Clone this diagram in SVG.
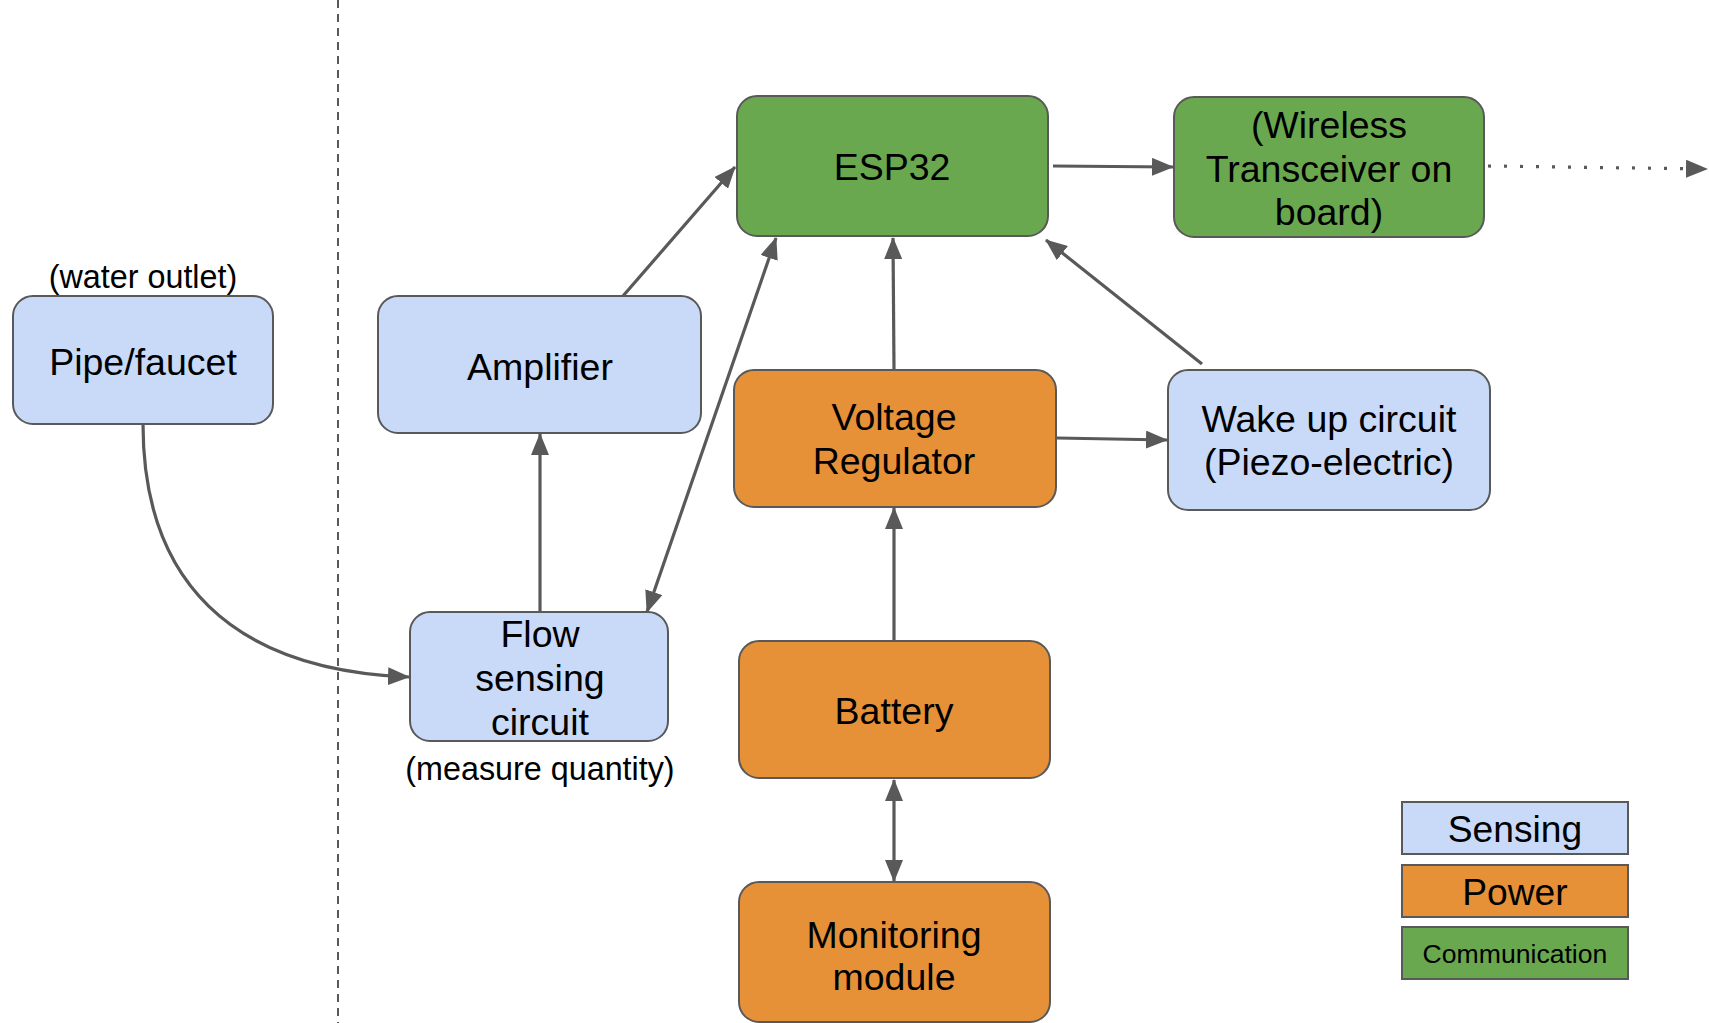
<svg xmlns="http://www.w3.org/2000/svg" width="1709" height="1023" viewBox="0 0 1709 1023">
<defs>
<style>
.node{stroke:#595959;stroke-width:2}
.sens{fill:#c9daf8}
.pow{fill:#e69138}
.com{fill:#6aa84f}
text{font-family:"Liberation Sans",Arial,sans-serif;fill:#000;text-anchor:middle}
.t{font-size:37.5px}
.s{font-size:32.3px}
.l{font-size:37.2px}
.c{font-size:26.6px}
.conn{fill:none;stroke:#595959;stroke-width:3.2}
</style>
<marker id="arr" viewBox="0 0 22 18" markerWidth="22" markerHeight="18" refX="21" refY="9" orient="auto-start-reverse" markerUnits="userSpaceOnUse">
<path d="M0,0 L22,9 L0,18 z" fill="#595959"/>
</marker>
</defs>
<rect width="1709" height="1023" fill="#fff"/>
<line x1="338" y1="0" x2="338" y2="1023" stroke="#595959" stroke-width="2" stroke-dasharray="8,6"/>

<g id="connectors">
<path class="conn" d="M143,424 C143,580 230,670 409,677" marker-end="url(#arr)"/>
<path class="conn" d="M540,612 L540,434" marker-end="url(#arr)"/>
<path class="conn" d="M623,296 L735,167" marker-end="url(#arr)"/>
<path class="conn" d="M647,612 L776,238" marker-start="url(#arr)" marker-end="url(#arr)"/>
<path class="conn" d="M894,369 L893,238" marker-end="url(#arr)"/>
<path class="conn" d="M1053,166 L1173,167" marker-end="url(#arr)"/>
<path class="conn" d="M1488,166 L1707,169" stroke-dasharray="3,13" marker-end="url(#arr)"/>
<path class="conn" d="M1202,364 L1046,240" marker-end="url(#arr)"/>
<path class="conn" d="M1057,438 L1167,440" marker-end="url(#arr)"/>
<path class="conn" d="M894,640 L894,508" marker-end="url(#arr)"/>
<path class="conn" d="M894,780 L894,881" marker-start="url(#arr)" marker-end="url(#arr)"/>
</g>

<g id="pipe">
<text class="s" x="143" y="288">(water outlet)</text>
<rect class="node sens" x="13" y="296" width="260" height="128" rx="20"/>
<text class="t" x="143" y="375">Pipe/faucet</text>
</g>
<g id="amplifier">
<rect class="node sens" x="378" y="296" width="323" height="137" rx="20"/>
<text class="t" x="540" y="380">Amplifier</text>
</g>
<g id="flow">
<rect class="node sens" x="410" y="612" width="258" height="129" rx="20"/>
<text class="t" x="540" y="647">Flow</text>
<text class="t" x="540" y="691">sensing</text>
<text class="t" x="540" y="735">circuit</text>
<text class="s" x="540" y="780">(measure quantity)</text>
</g>
<g id="esp32">
<rect class="node com" x="737" y="96" width="311" height="140" rx="20"/>
<text class="t" x="892" y="180">ESP32</text>
</g>
<g id="wireless">
<rect class="node com" x="1174" y="97" width="310" height="140" rx="20"/>
<text class="t" x="1329" y="138">(Wireless</text>
<text class="t" x="1329" y="182">Transceiver on</text>
<text class="t" x="1329" y="225">board)</text>
</g>
<g id="voltage">
<rect class="node pow" x="734" y="370" width="322" height="137" rx="20"/>
<text class="t" x="894" y="430">Voltage</text>
<text class="t" x="894" y="474">Regulator</text>
</g>
<g id="wakeup">
<rect class="node sens" x="1168" y="370" width="322" height="140" rx="20"/>
<text class="t" x="1329" y="432">Wake up circuit</text>
<text class="t" x="1329" y="475">(Piezo-electric)</text>
</g>
<g id="battery">
<rect class="node pow" x="739" y="641" width="311" height="137" rx="20"/>
<text class="t" x="894" y="724">Battery</text>
</g>
<g id="monitoring">
<rect class="node pow" x="739" y="882" width="311" height="140" rx="20"/>
<text class="t" x="894" y="948">Monitoring</text>
<text class="t" x="894" y="990">module</text>
</g>
<g id="legend">
<rect class="node sens" x="1402" y="802" width="226" height="52"/>
<text class="l" x="1515" y="842">Sensing</text>
<rect class="node pow" x="1402" y="865" width="226" height="52"/>
<text class="l" x="1515" y="905">Power</text>
<rect class="node com" x="1402" y="927" width="226" height="52"/>
<text class="c" x="1515" y="963">Communication</text>
</g>
</svg>
